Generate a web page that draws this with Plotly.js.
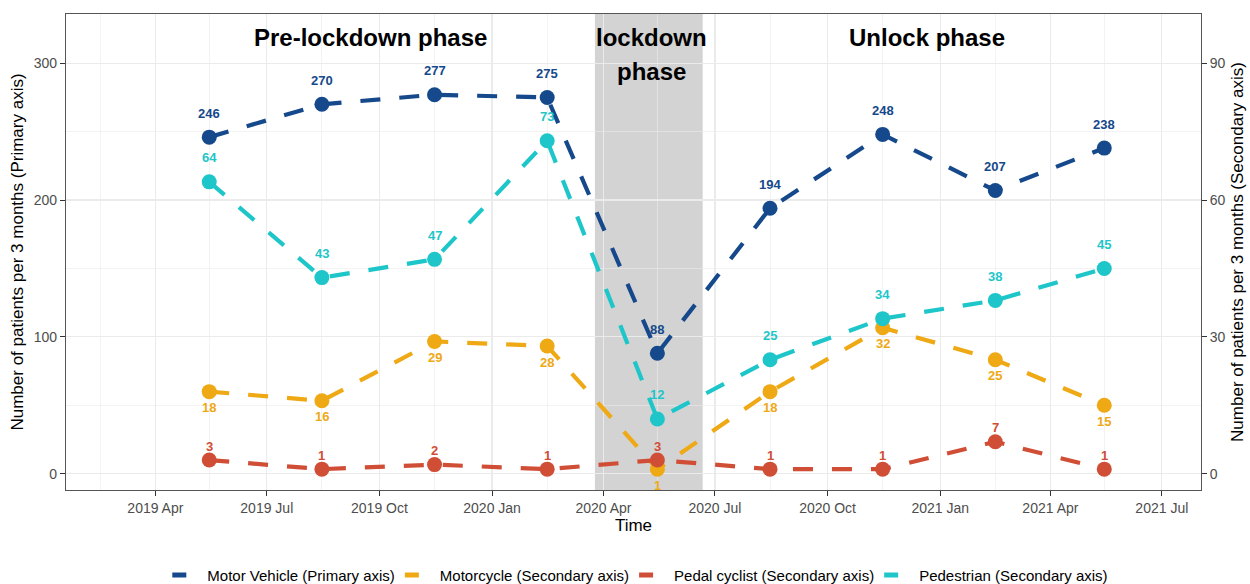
<!DOCTYPE html>
<html>
<head>
<meta charset="utf-8">
<script src="https://cdn.plot.ly/plotly-3.0.1.min.js"></script>
<style>html,body{margin:0;padding:0;background:#fff;}#chart{width:1250px;height:584px;}</style>
</head>
<body>
<div id="chart"></div>
<script>
// ---- data ----
var dates = ["2019-05-15","2019-08-15","2019-11-15","2020-02-15","2020-05-15","2020-08-15","2020-11-15","2021-02-15","2021-05-15"];
var motorVehicle = [246, 270, 277, 275, 88, 194, 248, 207, 238];   // primary axis
var motorcycle   = [18, 16, 29, 28, 1, 18, 32, 25, 15];             // secondary axis
var pedalCyclist = [3, 1, 2, 1, 3, 1, 1, 7, 1];                     // secondary axis
var pedestrian   = [64, 43, 47, 73, 12, 25, 34, 38, 45];            // secondary axis
var seriesNames = ["Motor Vehicle (Primary axis)", "Motorcycle (Secondary axis)", "Pedal cyclist (Secondary axis)", "Pedestrian (Secondary axis)"];
var phaseLabels = ["Pre-lockdown phase", "lockdown", "phase", "Unlock phase"];
var lockdownStart = "2020-03-25", lockdownEnd = "2020-06-21";

// ---- styles ----
var FONT = "Arial, 'Liberation Sans', sans-serif";
var series = [
  {name: seriesNames[0], y: motorVehicle, axis: "y",  color: "#15498B", shift: 24},
  {name: seriesNames[1], y: motorcycle,   axis: "y2", color: "#EEA914", shift: -16},
  {name: seriesNames[2], y: pedalCyclist, axis: "y2", color: "#D04E36", shift: 14},
  {name: seriesNames[3], y: pedestrian,   axis: "y2", color: "#1EC6C9", shift: 24}
];

var traces = series.map(function (s) {
  return {
    type: "scatter", mode: "lines+markers", name: s.name, showlegend: false,
    x: dates, y: s.y, yaxis: s.axis,
    line: {color: s.color, width: 4.2, dash: "20px,19px"},
    marker: {color: s.color, size: 15},
    cliponaxis: false
  };
});
// legend entries: line key only (as in the reference legend)
series.forEach(function (s) {
  traces.push({
    type: "scatter", mode: "lines", name: s.name, x: [null], y: [null], yaxis: s.axis,
    line: {color: s.color, width: 5, dash: "14px,100px"}, showlegend: true
  });
});

var annotations = [];
series.forEach(function (s) {
  s.y.forEach(function (v, i) {
    annotations.push({
      x: dates[i], y: v, xref: "x", yref: s.axis, text: "<b>" + v + "</b>",
      showarrow: false, yshift: s.shift,
      font: {family: FONT, size: 13, color: s.color}
    });
  });
});
var phaseFont = {family: FONT, size: 24, color: "#000"};
annotations.push({x: "2019-09-24", y: 319, xref: "x", yref: "y", text: "<b>" + phaseLabels[0] + "</b>", showarrow: false, font: phaseFont});
annotations.push({x: "2020-05-10", y: 319, xref: "x", yref: "y", text: "<b>" + phaseLabels[1] + "</b>", showarrow: false, font: phaseFont});
annotations.push({x: "2020-05-10", y: 294, xref: "x", yref: "y", text: "<b>" + phaseLabels[2] + "</b>", showarrow: false, font: phaseFont});
annotations.push({x: "2020-12-21", y: 319, xref: "x", yref: "y", text: "<b>" + phaseLabels[3] + "</b>", showarrow: false, font: phaseFont});

var tickFont = {family: FONT, size: 14, color: "#4D4D4D"};
var titleFont = {family: FONT, size: 17, color: "#000"};
var GRID = "#EBEBEB";

var layout = {
  width: 1250, height: 584,
  margin: {l: 66, r: 49, t: 14, b: 94, autoexpand: false},
  paper_bgcolor: "#fff", plot_bgcolor: "#fff",
  font: {family: FONT},
  showlegend: true,
  legend: {orientation: "h", x: 0.506, xanchor: "center", y: -0.179, yanchor: "middle",
           font: {family: FONT, size: 15, color: "#000"}, itemwidth: 30, tracegroupgap: 0},
  xaxis: {
    type: "date", range: ["2019-01-18", "2021-08-02"],
    tick0: "2019-01-01", dtick: "M3", tickformat: "%Y %b",
    ticks: "outside", ticklen: 5, tickcolor: "#333", tickwidth: 1,
    tickfont: tickFont,
    showgrid: true, gridcolor: GRID, gridwidth: 1.2,
    minor: {tick0: "2019-02-15", dtick: "M3", showgrid: true, gridcolor: GRID, gridwidth: 0.6, ticklen: 0},
    showline: true, linecolor: "#555", linewidth: 1.2, mirror: true,
    zeroline: false,
    title: {text: "Time", font: titleFont, standoff: 4}
  },
  yaxis: {
    range: [-11.9, 336], tickvals: [0, 100, 200, 300],
    ticks: "outside", ticklen: 5, tickcolor: "#333",
    tickfont: tickFont,
    showgrid: true, gridcolor: GRID, gridwidth: 1.2,
    minor: {dtick: 50, tick0: 0, showgrid: true, gridcolor: GRID, gridwidth: 0.6, ticklen: 0},
    showline: true, linecolor: "#555", linewidth: 1.2, mirror: true,
    zeroline: false,
    title: {text: "Number of patients per 3 months (Primary axis)", font: titleFont, standoff: 5}
  },
  yaxis2: {
    overlaying: "y", side: "right",
    range: [-3.57, 100.8], tickvals: [0, 30, 60, 90],
    ticks: "outside", ticklen: 5, tickcolor: "#333",
    tickfont: tickFont, showgrid: false, zeroline: false,
    title: {text: "Number of patients per 3 months (Secondary axis)", font: titleFont, standoff: 6}
  },
  shapes: [{
    type: "rect", xref: "x", yref: "paper", x0: lockdownStart, x1: lockdownEnd, y0: 0, y1: 1,
    fillcolor: "#D3D3D3", line: {width: 0}, layer: "between"
  }],
  annotations: annotations
};

Plotly.newPlot("chart", traces, layout, {displayModeBar: false, staticPlot: true});
</script>
</body>
</html>
